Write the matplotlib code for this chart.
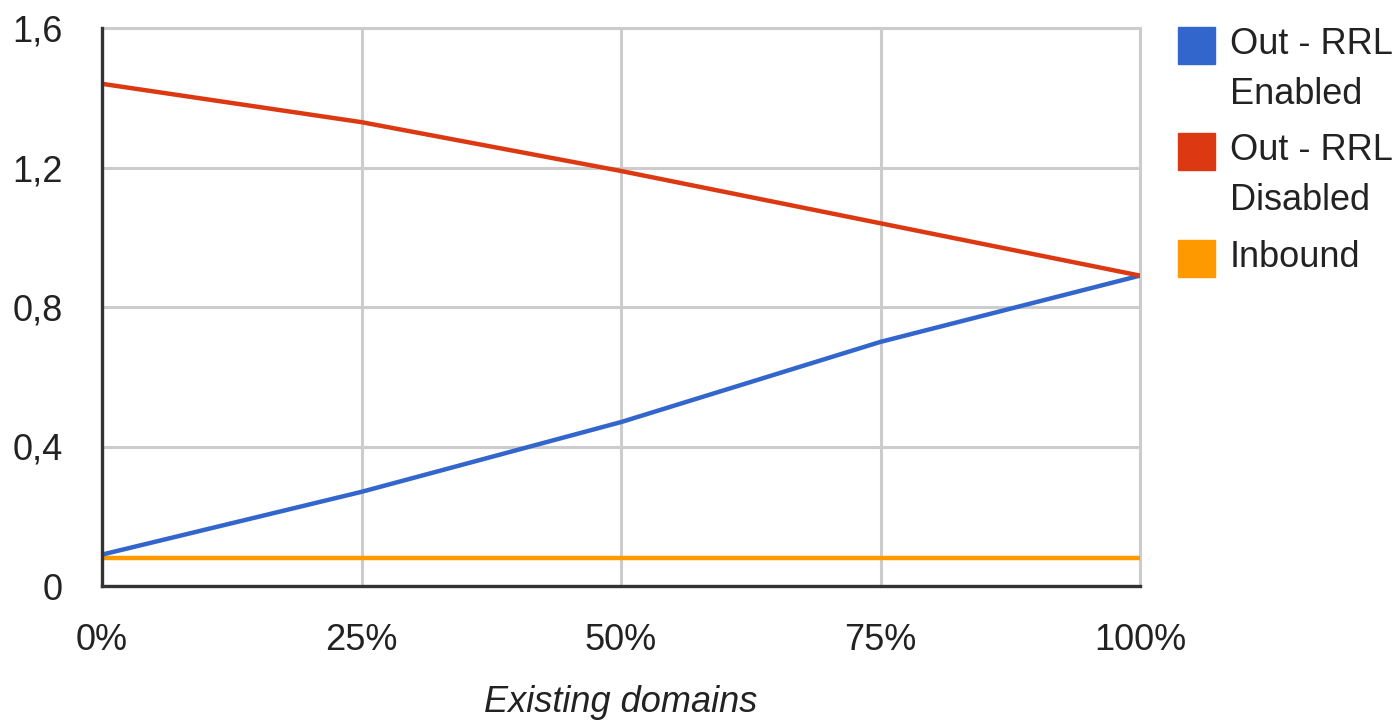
import matplotlib
matplotlib.use("Agg")
import matplotlib.pyplot as plt
from matplotlib.patches import Rectangle

x_labels = ["0%", "25%", "50%", "75%", "100%"]
x_vals = [0, 25, 50, 75, 100]
out_rrl_enabled = [0.09, 0.27, 0.47, 0.70, 0.89]
out_rrl_disabled = [1.44, 1.33, 1.19, 1.04, 0.89]
inbound = [0.08, 0.08, 0.08, 0.08, 0.08]
series_names = ["Out - RRL\nEnabled", "Out - RRL\nDisabled", "Inbound"]
colors = ["#3366cc", "#dc3912", "#ff9900"]
y_ticks = [0, 0.4, 0.8, 1.2, 1.6]
y_tick_labels = ["0", "0,4", "0,8", "1,2", "1,6"]

plt.rcParams['font.family'] = ['Liberation Sans', 'DejaVu Sans']

W, H = 1399, 722
fig = plt.figure(figsize=(W / 100, H / 100), dpi=100)
ax = fig.add_axes([102 / W, 1 - 586 / H, (1140 - 102) / W, (586 - 28) / H])

ax.plot(x_vals, inbound, color=colors[2], lw=3.2, solid_capstyle='butt', zorder=3)
ax.plot(x_vals, out_rrl_enabled, color=colors[0], lw=3.2, solid_capstyle='butt', zorder=4)
ax.plot(x_vals, out_rrl_disabled, color=colors[1], lw=3.2, solid_capstyle='butt', zorder=5)

ax.set_xlim(0, 100)
ax.set_ylim(0, 1.6)
ax.set_xticks(x_vals)
ax.set_xticklabels(x_labels)
ax.set_yticks(y_ticks)
ax.set_yticklabels(y_tick_labels)
ax.grid(True, color="#cccccc", lw=2.2)
ax.set_axisbelow(True)
ax.tick_params(length=0, labelsize=26, colors="#222222")
ax.tick_params(axis='x', pad=27)
ax.tick_params(axis='y', pad=28)
for s in ['top', 'right']:
    ax.spines[s].set_color("#cccccc")
    ax.spines[s].set_linewidth(2.2)
for s in ['left', 'bottom']:
    ax.spines[s].set_color("#333333")
    ax.spines[s].set_linewidth(2.4)
    ax.spines[s].set_zorder(6)

fig.text(621 / W, 1 - 703 / H, "Existing domains", ha='center', va='center',
         fontsize=26, style='italic', color="#222222")

# legend
sq_tops = [27, 133, 240]
for name, c, top in zip(series_names, colors, sq_tops):
    fig.patches.append(Rectangle((1178 / W, 1 - (top + 37) / H), 37 / W, 37 / H,
                                 transform=fig.transFigure, color=c))
    lines = name.split("\n")
    for i, ln in enumerate(lines):
        fig.text(1230 / W, 1 - (top + 18 + i * 49) / H, ln, ha='left', va='center',
                 fontsize=26, color="#222222")

fig.savefig("out.png", dpi=100, facecolor='white')
